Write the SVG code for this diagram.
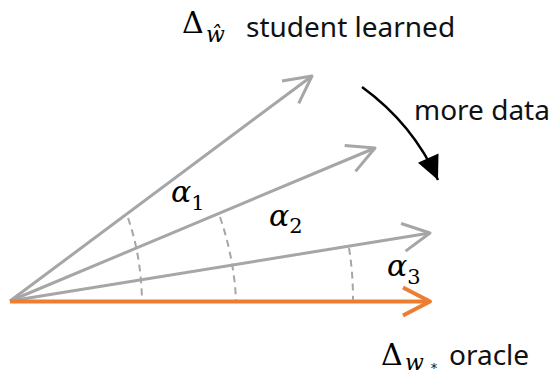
<svg xmlns="http://www.w3.org/2000/svg" width="559" height="376" viewBox="0 0 559 376">
<style>
.lbl{font-family:"Noto Sans","Open Sans",sans-serif;font-size:28px;fill:#111}
.math{font-family:"DejaVu Serif","Liberation Serif",serif;fill:#000}
.it{font-style:italic}
.vec{stroke:#a6a6a6;stroke-width:3;fill:none}
.arc{stroke:#a6a6a6;stroke-width:2;fill:none;stroke-dasharray:7 5}
</style>
<defs>
<marker id="gh" markerUnits="userSpaceOnUse" markerWidth="40" markerHeight="40" viewBox="-30 -20 34 40" refX="0" refY="0" orient="auto">
<path d="M-27,-14 L0,0 L-27,14" fill="none" stroke="#a6a6a6" stroke-width="3" stroke-linejoin="round" stroke-linecap="butt"/>
</marker>
<marker id="oh" markerUnits="userSpaceOnUse" markerWidth="40" markerHeight="40" viewBox="-30 -20 34 40" refX="0" refY="0" orient="auto">
<path d="M-27,-14 L0,0 L-27,14" fill="none" stroke="#ed7d31" stroke-width="4" stroke-linejoin="round" stroke-linecap="butt"/>
</marker>
<marker id="kh" markerUnits="userSpaceOnUse" markerWidth="30" markerHeight="30" viewBox="-18 -10 20 20" refX="0" refY="0" orient="auto">
<path d="M-16,-7.5 L0,0 L-16,7.5 Z" fill="#000"/>
</marker>
</defs>
<g id="connectors">
<line id="v1" class="vec" x1="10" y1="301" x2="312" y2="76" marker-end="url(#gh)"/>
<line id="v2" class="vec" x1="10" y1="301" x2="375" y2="148" marker-end="url(#gh)"/>
<line id="v3" class="vec" x1="10" y1="301" x2="430" y2="233" marker-end="url(#gh)"/>
<line id="oracle-vec" x1="10" y1="301.5" x2="430" y2="301.5" stroke="#ed7d31" stroke-width="4" marker-end="url(#oh)"/>
<path id="a1" class="arc" d="M128,218 Q141,255 142,300"/>
<path id="a2" class="arc" d="M220,217 Q234,258 236,300"/>
<path id="a3" class="arc" d="M349,248 Q353,272 353,300"/>
<path id="more" d="M362,87 Q413,124 438,180" stroke="#000" stroke-width="2.5" fill="none" marker-end="url(#kh)"/>
</g>
<g id="label-student">
<text class="math" x="182" y="33" font-size="30">Δ</text>
<text class="math it" x="206" y="42" font-size="22">ŵ</text>
<text class="lbl" x="246" y="37">student learned</text>
</g>
<g id="label-more">
<text class="lbl" x="414" y="120">more data</text>
</g>
<g id="label-oracle">
<text class="math" x="381" y="365" font-size="30">Δ</text>
<text class="math it" x="405" y="370" font-size="22">w</text>
<text class="math" x="431" y="373" font-size="12">*</text>
<text class="lbl" x="449" y="365">oracle</text>
</g>
<g id="alpha1"><text class="math" x="171" y="202"><tspan class="it" font-size="30">α</tspan><tspan font-size="21" dy="8">1</tspan></text></g>
<g id="alpha2"><text class="math" x="269" y="226"><tspan class="it" font-size="30">α</tspan><tspan font-size="21" dy="7">2</tspan></text></g>
<g id="alpha3"><text class="math" x="387" y="276"><tspan class="it" font-size="30">α</tspan><tspan font-size="21" dy="8">3</tspan></text></g>
</svg>
